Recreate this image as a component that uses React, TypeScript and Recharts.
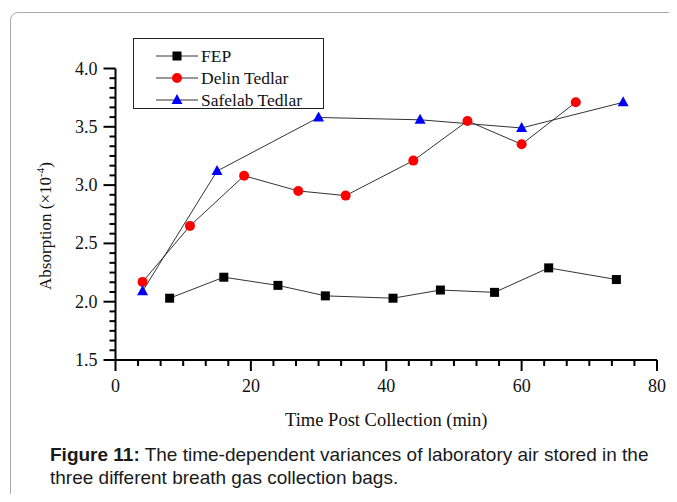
import React from "react";
import { LineChart, Line, XAxis, YAxis } from "recharts";

const fepTime = [8, 16, 24, 31, 41, 48, 56, 64, 74];
const fepAbs = [2.03, 2.21, 2.14, 2.05, 2.03, 2.1, 2.08, 2.29, 2.19];
const delinTime = [4, 11, 19, 27, 34, 44, 52, 60, 68];
const delinAbs = [2.17, 2.65, 3.08, 2.95, 2.91, 3.21, 3.55, 3.35, 3.71];
const safelabTime = [4, 15, 30, 45, 60, 75];
const safelabAbs = [2.09, 3.12, 3.58, 3.56, 3.49, 3.71];

const xMajor = [0, 20, 40, 60, 80];
const yMajor = [1.5, 2.0, 2.5, 3.0, 3.5, 4.0];
const xLabels = ["0", "20", "40", "60", "80"];
const yLabels = ["1.5", "2.0", "2.5", "3.0", "3.5", "4.0"];
const MINOR = 6; // intervals between majors (Origin style, 5 minor ticks)

const seriesNames = ["FEP", "Delin Tedlar", "Safelab Tedlar"];

const SERIF = "'Liberation Serif', 'Times New Roman', serif";
const LINE = "#333333";

// major + minor tick positions
function withMinor(major: number[]) {
  const out: number[] = [];
  for (let i = 0; i < major.length - 1; i++) {
    const step = (major[i + 1] - major[i]) / MINOR;
    for (let k = 0; k < MINOR; k++) out.push(+(major[i] + k * step).toFixed(4));
  }
  out.push(major[major.length - 1]);
  return out;
}

const toPts = (xs: number[], ys: number[]) => xs.map((x, i) => ({ t: x, v: ys[i] }));
const fep = toPts(fepTime, fepAbs);
const delin = toPts(delinTime, delinAbs);
const safelab = toPts(safelabTime, safelabAbs);

const majorIdx = (arr: number[], v: number) => arr.findIndex((m) => Math.abs(m - v) < 1e-6);

const YTick = ({ x, y, payload }: any) => {
  const i = majorIdx(yMajor, payload.value);
  const len = i >= 0 ? 12 : 6;
  return (
    <g>
      <line x1={x - len} x2={x} y1={y} y2={y} stroke="#000" strokeWidth={2} />
      {i >= 0 && (
        <text x={x - 18} y={y + 6} textAnchor="end" fontFamily={SERIF} fontSize={18} fill="#111">
          {yLabels[i]}
        </text>
      )}
    </g>
  );
};

const XTick = ({ x, y, payload }: any) => {
  const i = majorIdx(xMajor, payload.value);
  const len = i >= 0 ? 11 : 6;
  return (
    <g>
      <line x1={x} x2={x} y1={y} y2={y + len} stroke="#000" strokeWidth={2} />
      {i >= 0 && (
        <text x={x} y={y + 32} textAnchor="middle" fontFamily={SERIF} fontSize={18} fill="#111">
          {xLabels[i]}
        </text>
      )}
    </g>
  );
};

const Square = ({ cx, cy }: { cx: number; cy: number }) => (
  <rect x={cx - 4.5} y={cy - 4.5} width={9} height={9} fill="#000" />
);
const Circle = ({ cx, cy }: { cx: number; cy: number }) => (
  <circle cx={cx} cy={cy} r={5} fill="#ff0000" />
);
const Tri = ({ cx, cy }: { cx: number; cy: number }) => (
  <polygon points={`${cx},${cy - 6} ${cx + 5.5},${cy + 4} ${cx - 5.5},${cy + 4}`} fill="#0000ff" />
);

const markers = [Square, Circle, Tri];

const dotFn = (Shape: any) => (p: any) =>
  p.cx == null ? <g key={p.key} /> : <Shape key={p.key} cx={p.cx} cy={p.cy} />;

const LegendBox = () => (
  <div
    style={{
      position: "absolute",
      left: 133,
      top: 38,
      border: "1px solid #222",
      width: 191,
      height: 71,
      boxSizing: "border-box",
      background: "#fff",
      paddingTop: 6,
    }}
  >
    {seriesNames.map((name, i) => {
      const M = markers[i];
      return (
        <div key={name} style={{ display: "flex", alignItems: "center", height: 22 }}>
          <svg width={67} height={20} style={{ display: "block" }}>
            <line x1={22} x2={64} y1={10} y2={10} stroke={LINE} strokeWidth={1} />
            <M cx={43} cy={10} />
          </svg>
          <span style={{ fontFamily: SERIF, fontSize: 17.5, color: "#111", lineHeight: "20px" }}>{name}</span>
        </div>
      );
    })}
  </div>
);

const YLabel = ({ viewBox }: any) => {
  const cx = viewBox.x + 51;
  const cy = 226;
  return (
    <text
      x={cx}
      y={cy}
      transform={`rotate(-90 ${cx} ${cy})`}
      textAnchor="middle"
      fontFamily={SERIF}
      fontSize={17}
      fill="#111"
    >
      Absorption (×10
      <tspan fontSize={11} dy={-7}>-4</tspan>
      <tspan dy={7}>)</tspan>
    </text>
  );
};

export default function App() {
  return (
    <div
      style={{
        position: "relative",
        width: 677,
        height: 502,
        margin: -8,
        overflow: "hidden",
        background: "#fff",
      }}
    >
      <div
        style={{
          position: "absolute",
          left: 10,
          top: 12,
          width: 720,
          height: 540,
          border: "1.5px solid #a8a8a8",
          borderRadius: 8,
        }}
      />
      <div style={{ position: "absolute", left: 0, top: 0 }}>
        <LineChart width={677} height={440} margin={{ top: 68.5, right: 20, left: 0, bottom: 20 }}>
          <XAxis
            dataKey="t"
            type="number"
            domain={[0, 80]}
            ticks={withMinor(xMajor)}
            interval={0}
            tick={<XTick />}
            tickLine={false}
            tickSize={0}
            tickMargin={0}
            axisLine={{ stroke: "#000", strokeWidth: 2 }}
            height={60}
            allowDuplicatedCategory={false}
            label={{
              value: "Time Post Collection (min)",
              position: "insideBottom",
              offset: -6,
              fontFamily: SERIF,
              fontSize: 18.5,
              fill: "#111",
            }}
          />
          <YAxis
            dataKey="v"
            type="number"
            domain={[1.5, 4.0]}
            ticks={withMinor(yMajor)}
            interval={0}
            tick={<YTick />}
            tickLine={false}
            tickSize={0}
            tickMargin={0}
            axisLine={{ stroke: "#000", strokeWidth: 2 }}
            width={115.5}
            label={<YLabel />}
          />
          <Line data={fep} dataKey="v" name={seriesNames[0]} type="linear" stroke={LINE} strokeWidth={1}
            dot={dotFn(Square)} activeDot={false} isAnimationActive={false} />
          <Line data={delin} dataKey="v" name={seriesNames[1]} type="linear" stroke={LINE} strokeWidth={1}
            dot={dotFn(Circle)} activeDot={false} isAnimationActive={false} />
          <Line data={safelab} dataKey="v" name={seriesNames[2]} type="linear" stroke={LINE} strokeWidth={1}
            dot={dotFn(Tri)} activeDot={false} isAnimationActive={false} />
        </LineChart>
      </div>
      <LegendBox />
      <div
        style={{
          position: "absolute",
          left: 50,
          top: 443,
          width: 627,
          fontFamily: "'Liberation Sans', Arial, sans-serif",
          fontSize: 19,
          lineHeight: "23px",
          color: "#1a1a1a",
          whiteSpace: "nowrap",
        }}
      >
        <b>Figure 11:</b> The time-dependent variances of laboratory air stored in the
        <br />
        three different breath gas collection bags.
      </div>
    </div>
  );
}
